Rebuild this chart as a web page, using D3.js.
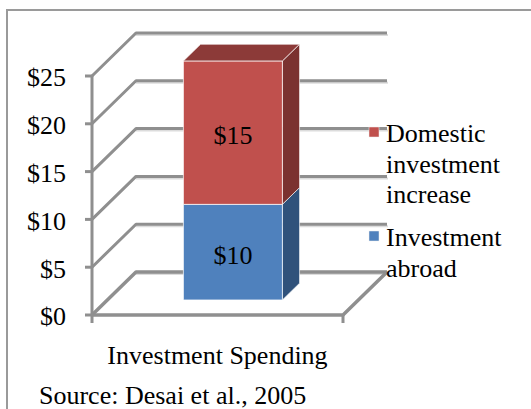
<!DOCTYPE html>
<html>
<head>
<meta charset="utf-8">
<script src="https://cdn.jsdelivr.net/npm/d3@7"></script>
<style>
  html, body { margin: 0; padding: 0; background: #fff; }
</style>
</head>
<body>
<svg id="chart" width="531" height="409" font-family="'Liberation Serif', 'Times New Roman', Times, serif"></svg>
<script>
// chart data
const categories = ['Investment Spending']
const seriesKeys = ['abroad', 'domestic']
const seriesNames = ['Investment abroad', 'Domestic investment increase']
const seriesValues = [10, 15]
const seriesLabels = ['$10', '$15']
const tickValues = [0, 5, 10, 15, 20, 25]
const tickLabels = ['$0', '$5', '$10', '$15', '$20', '$25']
const legendLines = [['Domestic', 'investment', 'increase'], ['Investment', 'abroad']]
const sourceText = 'Source: Desai et al., 2005'

const frontColors = ['#4f81bd', '#c0504d']
const sideColors = ['#30527b', '#7b3230']
const topColors = ['#3b6190', '#8c3a38']

const FONT = "'Liberation Serif', 'Times New Roman', Times, serif"

const svg = d3.select('#chart')

// 3d box: front plane x 92..343, depth offset
const DX = 44, DY = -43
const proj = (x, y, d) => [x + d * DX, y + d * DY]

const y = d3.scaleLinear().domain([0, 25]).range([315, 76])
const x = d3.scaleBand().domain(categories).range([92, 343]).paddingInner(0).paddingOuter(0.768)

// outer frame
svg.append('path')
  .attr('d', 'M7,409 L7,10 L531,10')
  .attr('fill', 'none')
  .attr('stroke', '#9a9a9a')
  .attr('stroke-width', 2)

const grid = svg.append('g')
const wall = '#8f8f8f'

// back wall lines + left wall diagonals
tickValues.forEach(v => {
  let p0 = proj(92, y(v), 0)
  let p1 = proj(92, y(v), 1)
  let p2 = proj(343, y(v), 1)
  grid.append('path')
    .attr('d', `M${p1[0]},${p1[1] + 2}L${p2[0] + 1},${p2[1] + 2}`)
    .attr('stroke', '#dcdcdc')
    .attr('stroke-width', 2)
  grid.append('path')
    .attr('d', `M${p0[0]},${p0[1]}L${p1[0]},${p1[1]}L${p2[0]},${p2[1]}`)
    .attr('fill', 'none')
    .attr('stroke', wall)
    .attr('stroke-width', v === 0 ? 3.5 : 3)
    .attr('stroke-linejoin', 'round')
})

// floor front + right edge
let f0 = proj(92, y(0), 0), f1 = proj(343, y(0), 0), f2 = proj(343, y(0), 1)
grid.append('path')
  .attr('d', `M${f0[0]},${f0[1]}L${f1[0]},${f1[1]}L${f2[0]},${f2[1]}`)
  .attr('fill', 'none')
  .attr('stroke', wall)
  .attr('stroke-width', 3.5)

// vertical axis
grid.append('line')
  .attr('x1', 92).attr('x2', 92)
  .attr('y1', y(25)).attr('y2', y(0) + 8)
  .attr('stroke', wall).attr('stroke-width', 3)

// y ticks
grid.selectAll('.ytick')
  .data(tickValues)
  .enter().append('line')
  .attr('x1', 85).attr('x2', 92)
  .attr('y1', d => y(d)).attr('y2', d => y(d))
  .attr('stroke', wall).attr('stroke-width', 3)

// x tick at right
grid.append('line')
  .attr('x1', 343).attr('x2', 343)
  .attr('y1', y(0)).attr('y2', y(0) + 8)
  .attr('stroke', wall).attr('stroke-width', 3)

// tick labels
svg.selectAll('.ylabel')
  .data(tickValues)
  .enter().append('text')
  .attr('x', 66)
  .attr('y', d => y(d))
  .attr('dy', '0.4em')
  .attr('text-anchor', 'end')
  .attr('font-family', FONT)
  .attr('font-size', 26)
  .text((d, i) => tickLabels[i])

// stacked bar
const row = {cat: categories[0]}
seriesKeys.forEach((k, i) => row[k] = seriesValues[i])
const stacked = d3.stack().keys(seriesKeys)([row])

const dFront = 0.35, dBack = 0.74
const bar = svg.append('g')

stacked.forEach((layer, i) => {
  let seg = layer[0]
  let x0 = x(seg.data.cat), x1 = x0 + x.bandwidth()
  let a = proj(x0, y(seg[1]), dFront), b = proj(x1, y(seg[1]), dFront)
  let c = proj(x1, y(seg[0]), dFront), e = proj(x0, y(seg[0]), dFront)
  let bb = proj(x1, y(seg[1]), dBack), cb = proj(x1, y(seg[0]), dBack)

  // side face
  bar.append('path')
    .attr('d', `M${b}L${bb}L${cb}L${c}Z`)
    .attr('fill', sideColors[i])
    .attr('stroke', 'rgba(255,255,255,0.6)')
    .attr('stroke-width', 1)

  // front face
  bar.append('path')
    .attr('d', `M${a}L${b}L${c}L${e}Z`)
    .attr('fill', frontColors[i])
    .attr('stroke', 'rgba(255,255,255,0.7)')
    .attr('stroke-width', 1)

  // top face on last layer
  if (i === stacked.length - 1) {
    let ab = proj(x0, y(seg[1]), dBack)
    bar.append('path')
      .attr('d', `M${a}L${ab}L${bb}L${b}Z`)
      .attr('fill', topColors[i])
      .attr('stroke', 'rgba(255,255,255,0.7)')
      .attr('stroke-width', 1)
  }

  // value label
  let mid = proj((x0 + x1) / 2, y((seg[0] + seg[1]) / 2), dFront)
  bar.append('text')
    .attr('x', mid[0])
    .attr('y', mid[1])
    .attr('dy', '0.45em')
    .attr('text-anchor', 'middle')
    .attr('font-family', FONT)
    .attr('font-size', 26)
    .text(seriesLabels[i])
})

// category label
svg.append('text')
  .attr('x', x(categories[0]) + x.bandwidth() / 2)
  .attr('y', 364)
  .attr('text-anchor', 'middle')
  .attr('font-family', FONT)
  .attr('font-size', 26)
  .text(categories[0])

// legend (reverse order, top = domestic)
const legendTop = [127, 231]
const legendIdx = [1, 0]
legendIdx.forEach((si, j) => {
  let g = svg.append('g').attr('transform', `translate(369,${legendTop[j]})`)
  g.append('rect')
    .attr('width', 10).attr('height', 10)
    .attr('fill', frontColors[si])
    .attr('stroke', '#eee').attr('stroke-width', 0.5)
  g.append('text')
    .attr('font-family', FONT)
    .attr('font-size', 26)
    .selectAll('tspan')
    .data(legendLines[j])
    .enter().append('tspan')
    .attr('x', 17)
    .attr('y', (d, k) => 15 + k * 30.5)
    .text(d => d)
})

// source
svg.append('text')
  .attr('x', 39)
  .attr('y', 404)
  .attr('font-family', FONT)
  .attr('font-size', 26)
  .text(sourceText)
</script>
</body>
</html>
